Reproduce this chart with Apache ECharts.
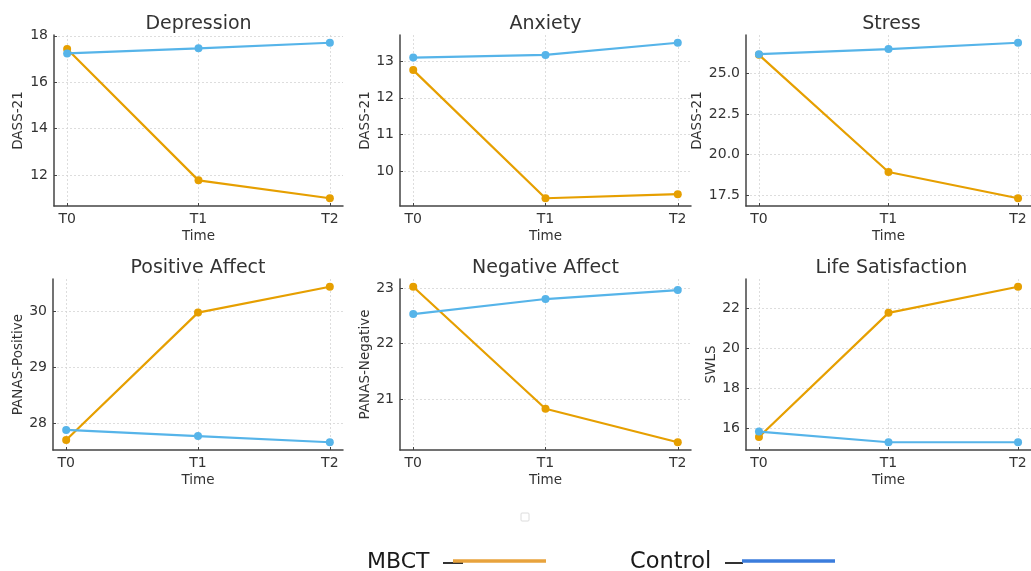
<!DOCTYPE html>
<html>
<head>
<meta charset="utf-8">
<script src="https://cdn.jsdelivr.net/npm/echarts@6/dist/echarts.min.js"></script>
<style>
html,body{margin:0;padding:0;background:#fff;}
#chart{width:1031px;height:571px;}
</style>
</head>
<body>
<div id="chart"></div>
<script>
// ---- data ----
const categories = ['T0', 'T1', 'T2'];
const panelTitles = ['Depression', 'Anxiety', 'Stress', 'Positive Affect', 'Negative Affect', 'Life Satisfaction'];
const yAxisNames = ['DASS-21', 'DASS-21', 'DASS-21', 'PANAS-Positive', 'PANAS-Negative', 'SWLS'];
const seriesNames = ['MBCT', 'Control'];

const depressionMBCT = [17.43, 11.77, 11.0];
const depressionControl = [17.24, 17.46, 17.70];
const anxietyMBCT = [12.75, 9.28, 9.39];
const anxietyControl = [13.09, 13.16, 13.49];
const stressMBCT = [26.13, 18.93, 17.32];
const stressControl = [26.17, 26.48, 26.87];
const positiveMBCT = [27.70, 29.97, 30.43];
const positiveControl = [27.88, 27.77, 27.66];
const negativeMBCT = [23.02, 20.83, 20.23];
const negativeControl = [22.53, 22.80, 22.96];
const lifeMBCT = [15.58, 21.77, 23.07];
const lifeControl = [15.85, 15.32, 15.32];

const depressionTicks = [12, 14, 16, 18];
const anxietyTicks = [10, 11, 12, 13];
const stressTicks = [17.5, 20.0, 22.5, 25.0];
const positiveTicks = [28, 29, 30];
const negativeTicks = [21, 22, 23];
const lifeTicks = [16, 18, 20, 22];

// ---- layout / style ----
const mbctData = [depressionMBCT, anxietyMBCT, stressMBCT, positiveMBCT, negativeMBCT, lifeMBCT];
const controlData = [depressionControl, anxietyControl, stressControl, positiveControl, negativeControl, lifeControl];
const tickSets = [depressionTicks, anxietyTicks, stressTicks, positiveTicks, negativeTicks, lifeTicks];
const tickDecimals = [0, 0, 1, 0, 0, 0];
const gridLefts = [54, 400, 746, 53, 400, 746];
const gridWidths = [289, 291, 291, 290, 291, 291];
const gridTops = [35, 35, 35, 279, 279, 279];
const gridHeight = 171;
const nameGaps = [28.5, 27.5, 41.5, 27, 27, 27.5];

const COL_MBCT = '#E69F00';
const COL_CTRL = '#56B4E9';
const FONT = 'DejaVu Sans';
const TXT = '#333333';

const grids = [], xAxes = [], yAxes = [], series = [], graphics = [];

for (let i = 0; i < 6; i++) {
  grids.push({left: gridLefts[i], top: gridTops[i], width: gridWidths[i], height: gridHeight, containLabel: false});
  const all = mbctData[i].concat(controlData[i]);
  const lo = Math.min.apply(null, all), hi = Math.max.apply(null, all);
  const pad = (hi - lo) * 0.05;
  xAxes.push({
    type: 'value', gridIndex: i, min: -0.1, max: 2.1,
    name: 'Time', nameLocation: 'middle', nameGap: 23,
    nameTextStyle: {fontFamily: FONT, fontSize: 13.5, color: TXT},
    axisLine: {show: true, onZero: false, lineStyle: {color: '#444', width: 1.5}},
    axisTick: {show: true, inside: true, length: 3, customValues: [0, 1, 2], lineStyle: {color: '#444', width: 1}},
    axisLabel: {customValues: [0, 1, 2], margin: 6, fontFamily: FONT, fontSize: 14, color: TXT,
      formatter: v => categories[Math.round(v)]},
    splitLine: {show: true, lineStyle: {color: '#d5d5d5', type: [2, 2], width: 0.8}}
  });
  const ticks = tickSets[i], dec = tickDecimals[i];
  yAxes.push({
    type: 'value', gridIndex: i, min: lo - pad, max: hi + pad,
    name: yAxisNames[i], nameLocation: 'middle', nameGap: nameGaps[i], nameRotate: 90,
    nameTextStyle: {fontFamily: FONT, fontSize: 13.5, color: TXT},
    axisLine: {show: true, onZero: false, lineStyle: {color: '#444', width: 1.5}},
    axisTick: {show: true, inside: true, length: 3, customValues: ticks, lineStyle: {color: '#444', width: 1}},
    axisLabel: {customValues: ticks, margin: 6, fontFamily: FONT, fontSize: 14, color: TXT,
      formatter: v => Number(v).toFixed(dec)},
    splitLine: {show: true, lineStyle: {color: '#d5d5d5', type: [2, 2], width: 0.8}}
  });
  [mbctData[i], controlData[i]].forEach((arr, k) => {
    series.push({
      type: 'line', name: seriesNames[k], xAxisIndex: i, yAxisIndex: i,
      data: arr.map((v, j) => [j, v]),
      symbol: 'circle', symbolSize: 8, showSymbol: true,
      lineStyle: {width: 2.2, color: k === 0 ? COL_MBCT : COL_CTRL},
      itemStyle: {color: k === 0 ? COL_MBCT : COL_CTRL},
      z: 2 + k, animation: false, silent: true
    });
  });
  graphics.push({
    type: 'text',
    x: gridLefts[i] + gridWidths[i] / 2, y: gridTops[i] - 11,
    style: {text: panelTitles[i], fontFamily: FONT, fontSize: 19, fill: TXT, textAlign: 'center', textVerticalAlign: 'middle'}
  });
}

// odd legend artefacts at the bottom
graphics.push({type: 'rect', shape: {x: 521, y: 513, width: 8, height: 8, r: 1},
  style: {fill: 'none', stroke: '#dcdcdc', lineWidth: 1}});
graphics.push({type: 'text', x: 367, y: 562,
  style: {text: seriesNames[0], fontFamily: FONT, fontSize: 22, fill: '#1a1a1a', textAlign: 'left', textVerticalAlign: 'middle'}});
graphics.push({type: 'line', shape: {x1: 443, y1: 563, x2: 463, y2: 563}, style: {stroke: '#333', lineWidth: 2}});
graphics.push({type: 'line', shape: {x1: 453, y1: 561, x2: 546, y2: 561}, style: {stroke: '#E8A33D', lineWidth: 3.5}});
graphics.push({type: 'text', x: 630, y: 562,
  style: {text: seriesNames[1], fontFamily: FONT, fontSize: 22.5, fill: '#1a1a1a', textAlign: 'left', textVerticalAlign: 'middle'}});
graphics.push({type: 'line', shape: {x1: 725, y1: 563, x2: 743, y2: 563}, style: {stroke: '#333', lineWidth: 2}});
graphics.push({type: 'line', shape: {x1: 742, y1: 561, x2: 835, y2: 561}, style: {stroke: '#3B7DDD', lineWidth: 3.5}});

const chart = echarts.init(document.getElementById('chart'));
chart.setOption({
  animation: false,
  backgroundColor: '#ffffff',
  grid: grids, xAxis: xAxes, yAxis: yAxes, series: series,
  graphic: graphics
});
</script>
</body>
</html>
